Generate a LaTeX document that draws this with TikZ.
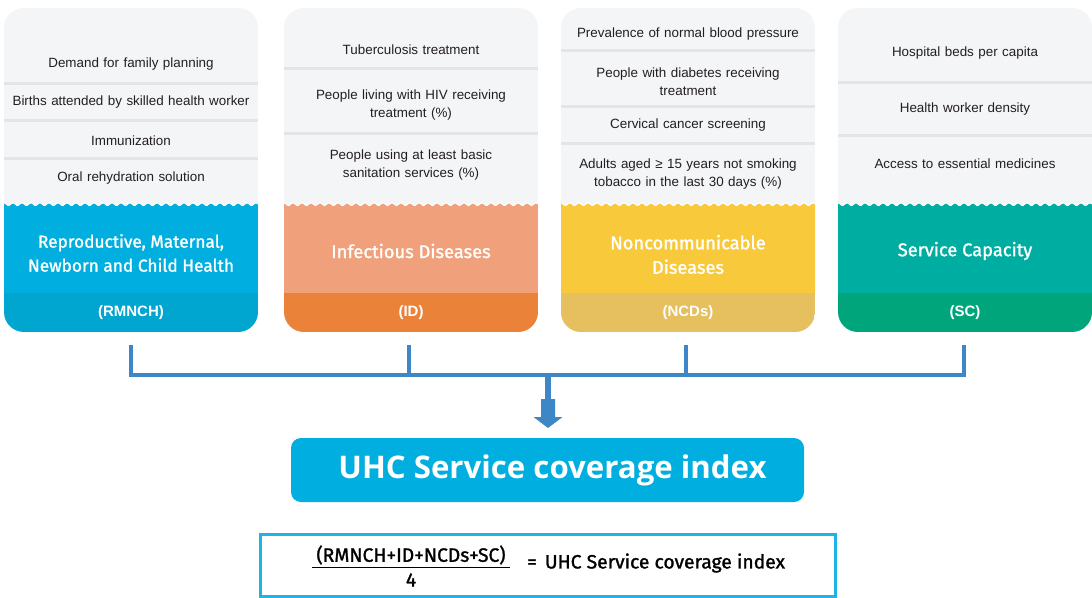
\documentclass[tikz,border=0pt]{standalone}
\usepackage{fontspec}
\setmainfont{Liberation Sans}
\newfontfamily\titlefont{Fira Sans}[FakeBold=1.3]
\newfontfamily\uhcfont{Open Sans}
\definecolor{cardgray}{HTML}{F4F5F7}
\definecolor{sepgray}{HTML}{E4E5E8}
\definecolor{rmMain}{HTML}{00AEDF}
\definecolor{rmBand}{HTML}{00A5D0}
\definecolor{idMain}{HTML}{F0A17C}
\definecolor{idBand}{HTML}{EB8239}
\definecolor{ncMain}{HTML}{F9C93C}
\definecolor{ncBand}{HTML}{E6BF5E}
\definecolor{scMain}{HTML}{00AEA1}
\definecolor{scBand}{HTML}{00A57C}
\definecolor{connBlue}{HTML}{3D87C7}
\definecolor{uhcCyan}{HTML}{00AEDF}
\definecolor{formCyan}{HTML}{1EB4E6}
\definecolor{itemtext}{HTML}{231F20}
\newcommand\mkcard[3]{%
  \begin{scope}[shift={(#1,0)}]
    \clip[rounded corners=20pt] (0,8) rectangle (254,332);
    \fill[cardgray] (0,8) rectangle (254,332);
    \fill[#2] (0,205) -- plot[domain=0:254,samples=300] (\x,{205-1.3*cos(40*\x)}) -- (254,293) -- (0,293) -- cycle;
    \draw[white,line width=0.7pt] plot[domain=0:254,samples=300] (\x,{203.9-1.3*cos(40*\x)});
    \fill[#3] (0,293) rectangle (254,332);
  \end{scope}}
\newcommand\mksep[2]{\fill[sepgray] (#1,#2-1.5) rectangle (#1+254,#2+1.5);}
\begin{document}
\begin{tikzpicture}[x=1pt,y=-1pt,
  item/.style={font=\fontsize{13.4}{18}\selectfont,text width=240pt,align=center,text=itemtext,inner sep=0pt,yshift=-1.5pt},
  cardtitle/.style={font=\titlefont\fontsize{18.3}{24.5}\selectfont,text=white,align=center,inner sep=0pt},
  abbr/.style={font=\bfseries\fontsize{15}{18}\selectfont,text=white,inner sep=0pt},
  conn/.style={draw=connBlue,line width=4.5pt},
  formtext/.style={font=\titlefont\fontsize{19.3}{22}\selectfont,text=black,inner sep=0pt}]
\useasboundingbox (0,0) rectangle (1092,597);
\fill[white] (0,0) rectangle (1092,597);

% cards
\mkcard{4}{rmMain}{rmBand}
\mkcard{284}{idMain}{idBand}
\mkcard{561}{ncMain}{ncBand}
\mkcard{838}{scMain}{scBand}

% separators
\mksep{4}{83}\mksep{4}{120}\mksep{4}{158}
\mksep{284}{68}\mksep{284}{133}
\mksep{561}{50}\mksep{561}{106}\mksep{561}{143}
\mksep{838}{82}\mksep{838}{135}

% card 1 items
\node[item] (r1) at (131,63) {Demand for family planning};
\node[item] (r2) at (131,101) {Births attended by skilled health worker};
\node[item] (r3) at (131,139) {Immunization};
\node[item] (r4) at (131,177) {Oral rehydration solution};
\node[cardtitle,font=\titlefont\fontsize{17.3}{24}\selectfont] (rt) at (131,253) {Reproductive, Maternal,\\Newborn and Child Health};
\node[abbr] (ra) at (131,313) {(RMNCH)};

% card 2 items
\node[item] (i1) at (411,48) {Tuberculosis treatment};
\node[item] (i2) at (411,104) {People living with HIV receiving\\treatment (\%)};
\node[item] (i3) at (411,164) {People using at least basic\\sanitation services (\%)};
\node[cardtitle] (it) at (411,251) {Infectious Diseases};
\node[abbr] (ia) at (411,313) {(ID)};

% card 3 items
\node[item] (n1) at (688,33) {Prevalence of normal blood pressure};
\node[item] (n2) at (688,80) {People with diabetes receiving\\treatment};
\node[item] (n3) at (688,124) {Cervical cancer screening};
\node[item] (n4) at (688,172.5) {Adults aged ≥ 15 years not smoking\\tobacco in the last 30 days (\%)};
\node[cardtitle] (nt) at (688,254.5) {Noncommunicable\\Diseases};
\node[abbr] (na) at (688,313) {(NCDs)};

% card 4 items
\node[item] (s1) at (965,52) {Hospital beds per capita};
\node[item] (s2) at (965,108) {Health worker density};
\node[item] (s3) at (965,162) {Access to essential medicines};
\node[cardtitle] (st) at (965,251) {Service Capacity};
\node[abbr] (sa) at (965,313) {(SC)};

% connectors
\coordinate (d1) at (131,345); \coordinate (j1) at (131,375);
\coordinate (d2) at (409,345); \coordinate (j2) at (409,375);
\coordinate (d3) at (686,345); \coordinate (j3) at (686,375);
\coordinate (d4) at (964,345); \coordinate (j4) at (964,375);
\coordinate (jm) at (548,375); \coordinate (ah) at (548,400);
\draw[conn] (d1) -- (j1) -- (j4) -- (d4);
\draw[conn] (d2) -- (j2);
\draw[conn] (d3) -- (j3);
\draw[draw=connBlue,line width=5.5pt] (jm) -- (ah);
\fill[connBlue] (ah) ++(-7,-1) -- ++(14,0) -- ++(0,18) -- ++(7.5,0) -- ++(-14.5,11) -- ++(-14.5,-11) -- ++(7.5,0) -- cycle;

% UHC box
\node[fill=uhcCyan,rounded corners=10pt,minimum width=513pt,minimum height=64pt,inner sep=0pt,
      text=white,font=\uhcfont\bfseries\fontsize{31.2}{36}\selectfont] (uhc) at (547.5,470) {\hspace*{10pt}UHC Service coverage index};

% formula box
\node[draw=formCyan,line width=3pt,minimum width=574.5pt,minimum height=61.5pt,inner sep=0pt] (fbox) at (547.75,565.25) {};
\node[formtext] (num) at (411,555) {(RMNCH+ID+NCDs+SC)};
\draw[line width=1.6pt] (312,567.5) -- (510,567.5);
\node[formtext] (den) at (411,580) {4};
\node[formtext,anchor=west] (eq) at (527,563) {=\hspace{8pt}UHC Service coverage index};
\end{tikzpicture}
\end{document}
